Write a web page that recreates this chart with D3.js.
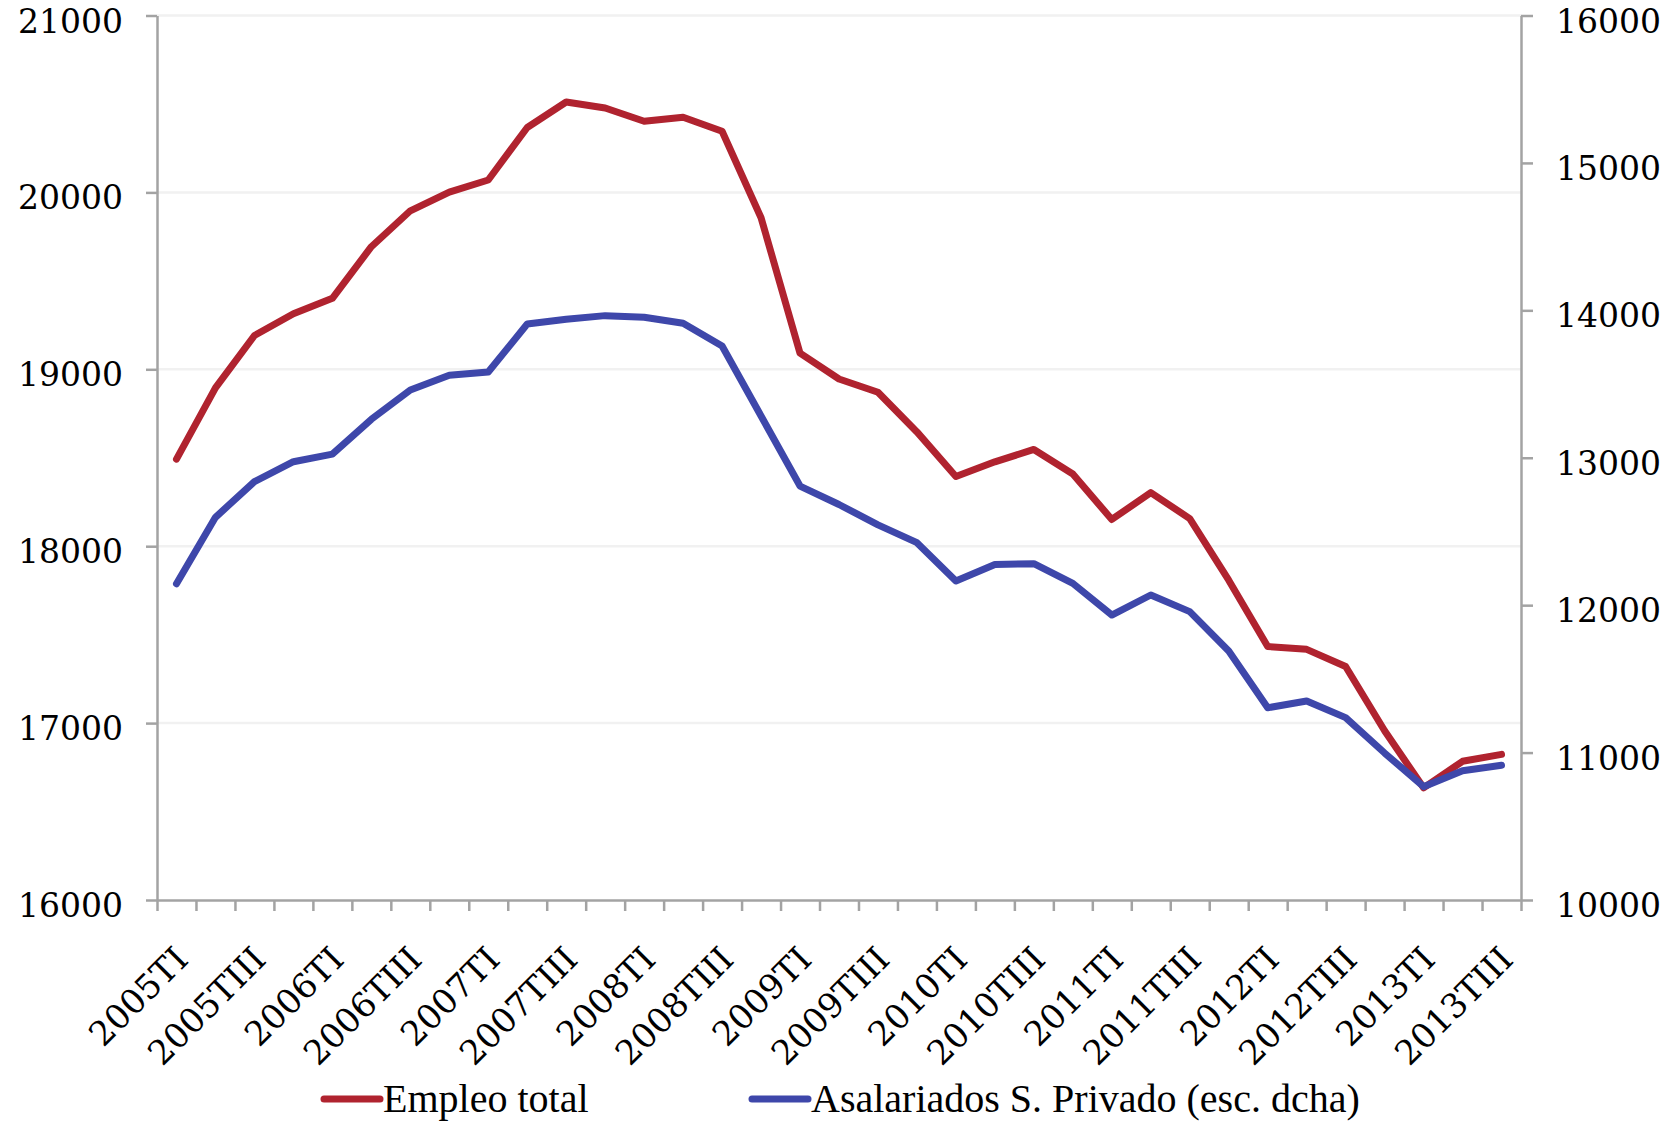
<!DOCTYPE html>
<html>
<head>
<meta charset="utf-8">
<script src="https://cdn.jsdelivr.net/npm/d3@7"></script>
<style>
  body { margin: 0; background: #fff; }
  svg { display: block; }
</style>
</head>
<body>
<svg id="chart" width="1674" height="1122"></svg>
<script>
// quarters, 2005TI .. 2013TIII
const quarters = [
  "2005TI", "2005TII", "2005TIII", "2005TIV",
  "2006TI", "2006TII", "2006TIII", "2006TIV",
  "2007TI", "2007TII", "2007TIII", "2007TIV",
  "2008TI", "2008TII", "2008TIII", "2008TIV",
  "2009TI", "2009TII", "2009TIII", "2009TIV",
  "2010TI", "2010TII", "2010TIII", "2010TIV",
  "2011TI", "2011TII", "2011TIII", "2011TIV",
  "2012TI", "2012TII", "2012TIII", "2012TIV",
  "2013TI", "2013TII", "2013TIII"
];

// miles de personas, eje izquierdo
const empleoTotal = [
  18492, 18895, 19191, 19314, 19401, 19693, 19896, 20002,
  20070, 20367, 20511, 20477, 20402, 20425, 20346, 19857,
  19091, 18945, 18870, 18646, 18394, 18477, 18547, 18408,
  18151, 18303, 18156, 17808, 17433, 17417, 17320, 16957,
  16634, 16784, 16823
];

// eje derecho
const asalariadosPrivado = [
  12145, 12596, 12838, 12973, 13025, 13261, 13460, 13559,
  13582, 13907, 13939, 13964, 13953, 13912, 13758, 13283,
  12808, 12683, 12545, 12424, 12164, 12276, 12281, 12148,
  11933, 12069, 11956, 11689, 11304, 11350, 11237, 10997,
  10769, 10877, 10914
];

const leftTicks = [16000, 17000, 18000, 19000, 20000, 21000];
const rightTicks = [10000, 11000, 12000, 13000, 14000, 15000, 16000];
const labelEvery = 2;

const seriesNames = ["Empleo total", "Asalariados S. Privado (esc. dcha)"];
const seriesColors = ["#b0232f", "#3e47aa"];

const svg = d3.select("#chart");
const plotLeft = 157, plotRight = 1521, plotTop = 15.5, plotBottom = 900;
const axisColor = "#a3a3a3";
const tickFont = "'DejaVu Serif', Georgia, serif";

const x = d3.scaleBand().domain(quarters).range([plotLeft, plotRight]);
const xEdges = d3.scaleLinear().domain([0, quarters.length]).range([plotLeft, plotRight]);
const yLeft = d3.scaleLinear().domain([16000, 21000]).range([plotBottom, plotTop]);
const yRight = d3.scaleLinear().domain([10000, 16000]).range([plotBottom, plotTop]);

svg.append("rect").attr("width", 1674).attr("height", 1122).attr("fill", "#fff");

// horizontal gridlines
svg.append("g")
  .selectAll("line")
  .data(leftTicks.filter(d => d > 16000))
  .join("line")
  .attr("x1", plotLeft).attr("x2", plotRight)
  .attr("y1", d => yLeft(d)).attr("y2", d => yLeft(d))
  .attr("stroke", "#f1f1f1")
  .attr("stroke-width", 2.5);

function styleAxis(g) {
  g.select(".domain").attr("stroke", axisColor).attr("stroke-width", 2.5);
  g.selectAll(".tick line").attr("stroke", axisColor).attr("stroke-width", 2.5);
  g.selectAll("text").attr("fill", "#000").style("font-family", tickFont);
}

// left axis
svg.append("g")
  .attr("transform", `translate(${plotLeft},0)`)
  .call(d3.axisLeft(yLeft).tickValues(leftTicks).tickFormat(d3.format("d"))
    .tickSize(11).tickSizeOuter(0).tickPadding(23))
  .call(styleAxis)
  .call(g => g.selectAll("text").style("font-size", "33px").attr("dy", "0.5em"));

// right axis
svg.append("g")
  .attr("transform", `translate(${plotRight},0)`)
  .call(d3.axisRight(yRight).tickValues(rightTicks).tickFormat(d3.format("d"))
    .tickSize(12).tickSizeOuter(0).tickPadding(23))
  .call(styleAxis)
  .call(g => g.selectAll("text").style("font-size", "33px").attr("dy", "0.5em"));

// bottom axis: ticks between categories
svg.append("g")
  .attr("transform", `translate(0,${plotBottom})`)
  .call(d3.axisBottom(xEdges).tickValues(d3.range(quarters.length + 1))
    .tickFormat("").tickSize(11).tickSizeOuter(0))
  .call(styleAxis);

// category labels, rotated
svg.append("g")
  .attr("transform", `translate(0,${plotBottom})`)
  .call(d3.axisBottom(x)
    .tickValues(quarters.filter((d, i) => i % labelEvery === 0))
    .tickSize(0).tickSizeOuter(0).tickPadding(0))
  .call(g => g.select(".domain").remove())
  .call(g => g.selectAll("text")
    .attr("fill", "#000")
    .style("font-family", tickFont)
    .style("font-size", "34px")
    .attr("text-anchor", "end")
    .attr("y", 0).attr("dy", "0.35em")
    .attr("transform", "translate(5,53) rotate(-45)"));

// lines
const series = [
  { name: seriesNames[0], values: empleoTotal, y: yLeft, color: seriesColors[0] },
  { name: seriesNames[1], values: asalariadosPrivado, y: yRight, color: seriesColors[1] }
];

series.forEach(s => {
  const line = d3.line()
    .x((d, i) => x(quarters[i]) + x.bandwidth() / 2)
    .y(d => s.y(d));
  svg.append("path")
    .datum(s.values)
    .attr("d", line)
    .attr("fill", "none")
    .attr("stroke", s.color)
    .attr("stroke-width", 7)
    .attr("stroke-linejoin", "round")
    .attr("stroke-linecap", "round");
});

// legend
const legendX = [324, 752];
const legend = svg.append("g").attr("transform", "translate(0,1099)");
series.forEach((s, i) => {
  legend.append("line")
    .attr("x1", legendX[i]).attr("x2", legendX[i] + 56)
    .attr("y1", 0).attr("y2", 0)
    .attr("stroke", s.color)
    .attr("stroke-width", 7)
    .attr("stroke-linecap", "round");
  legend.append("text")
    .attr("x", legendX[i] + 59)
    .attr("y", 13)
    .style("font-family", "'Liberation Serif', 'Times New Roman', serif")
    .style("font-size", "40px")
    .attr("fill", "#000")
    .text(s.name);
});
</script>
</body>
</html>
